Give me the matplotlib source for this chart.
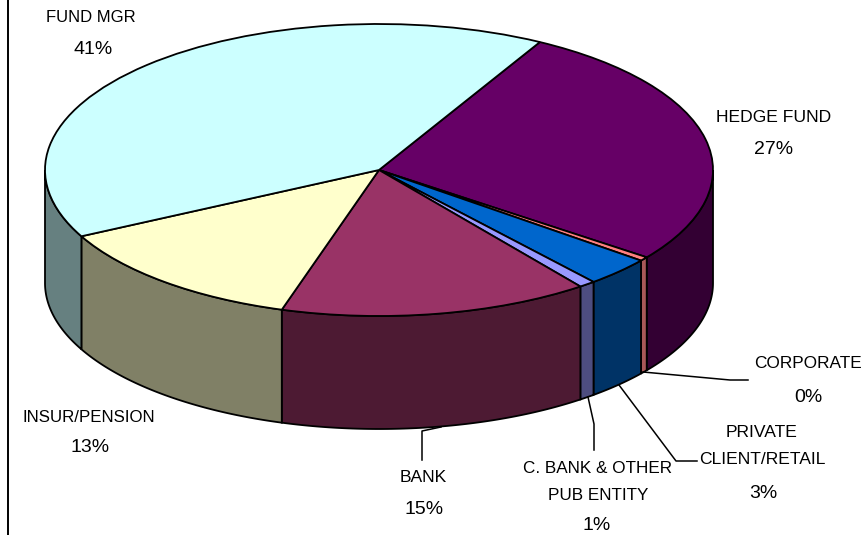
import numpy as np
import matplotlib
matplotlib.use('Agg')
import matplotlib.pyplot as plt

# slices, clockwise from the fund mgr / hedge fund boundary
names = ['HEDGE FUND', 'CORPORATE', 'PRIVATE\nCLIENT/RETAIL', 'C. BANK & OTHER\nPUB ENTITY',
         'BANK', 'INSUR/PENSION', 'FUND MGR']
values = [27.2, 0.45, 3.25, 0.8, 15.0, 12.8, 40.5]
pct_labels = ['27%', '0%', '3%', '1%', '15%', '13%', '41%']

top_colors = ['#660066', '#FF8080', '#0066CC', '#9999FF', '#993366', '#FFFFCC', '#CCFFFF']
wall_colors = ['#330033', '#A85858', '#003366', '#4D4D80', '#4D1A33', '#808066', '#668080']

W, H = 863, 535
cx, cy = 379, 170      # pie centre in pixels
rx, ry = 334, 146      # ellipse radii
depth = 113            # wall height
start = 61.2

fig = plt.figure(figsize=(W / 100, H / 100), dpi=100)

# pie axes: one data unit is rx pixels across and ry pixels down
ax = fig.add_axes([0, 0, 1, 1])
ax.pie(values, colors=top_colors, startangle=start, counterclock=False, radius=1, center=(0, 0),
       wedgeprops={'edgecolor': 'black', 'linewidth': 1.3, 'zorder': 5})
ax.set_aspect('auto')
ax.set_xlim(-cx / rx, (W - cx) / rx)
ax.set_ylim(-(H - cy) / ry, cy / ry)

# walls of the slices that face the front
d = depth / ry
ends = start - np.cumsum(values) * 3.6
starts = np.r_[start, ends[:-1]]
for a0, a1, col in zip(starts, ends, wall_colors):
    lo, hi = max(a1, -180), min(a0, 0)
    if lo >= hi:
        continue
    t = np.radians(np.linspace(lo, hi, 80))
    xs = np.cos(t)
    ys = np.sin(t)
    ax.fill(np.r_[xs, xs[::-1]], np.r_[ys, ys[::-1] - d], facecolor=col, edgecolor='black',
            linewidth=1.3, zorder=2)

# overlay in pixel coordinates for the border, labels and leader lines
ov = fig.add_axes([0, 0, 1, 1], facecolor='none')
ov.set_xlim(0, W)
ov.set_ylim(H, 0)
ov.axis('off')

ov.plot([7.5, 7.5], [0, H], color='black', lw=1.4)

leaders = [
    ([643, 372, 730, 380, 748, 380]),
    ([619, 385, 676, 461, 697, 461]),
    ([588, 397, 594, 424, 594, 450]),
    ([441, 427, 422, 431, 422, 460]),
]
for p in leaders:
    ov.plot(p[0::2], p[1::2], color='black', lw=1.1)

name_pos = [(774, 117), (808, 364), (762, 446), (598, 482), (423, 477), (89, 418), (91, 17)]
pct_pos = [(774, 149), (808, 397), (763, 493), (597, 525), (424, 509), (90, 448), (93, 50)]
name_size = [12.6, 12.4, 12.6, 12.3, 12.6, 12.2, 12.0]

font = 'Liberation Sans'
for name, pct, np_, pp, fs in zip(names, pct_labels, name_pos, pct_pos, name_size):
    ov.text(np_[0], np_[1], name, ha='center', va='center', family=font, fontsize=fs,
            linespacing=2.0, color='black')
    ov.text(pp[0], pp[1], pct, ha='center', va='center', family=font, fontsize=14, color='black')

fig.savefig('out.png', dpi=100)
